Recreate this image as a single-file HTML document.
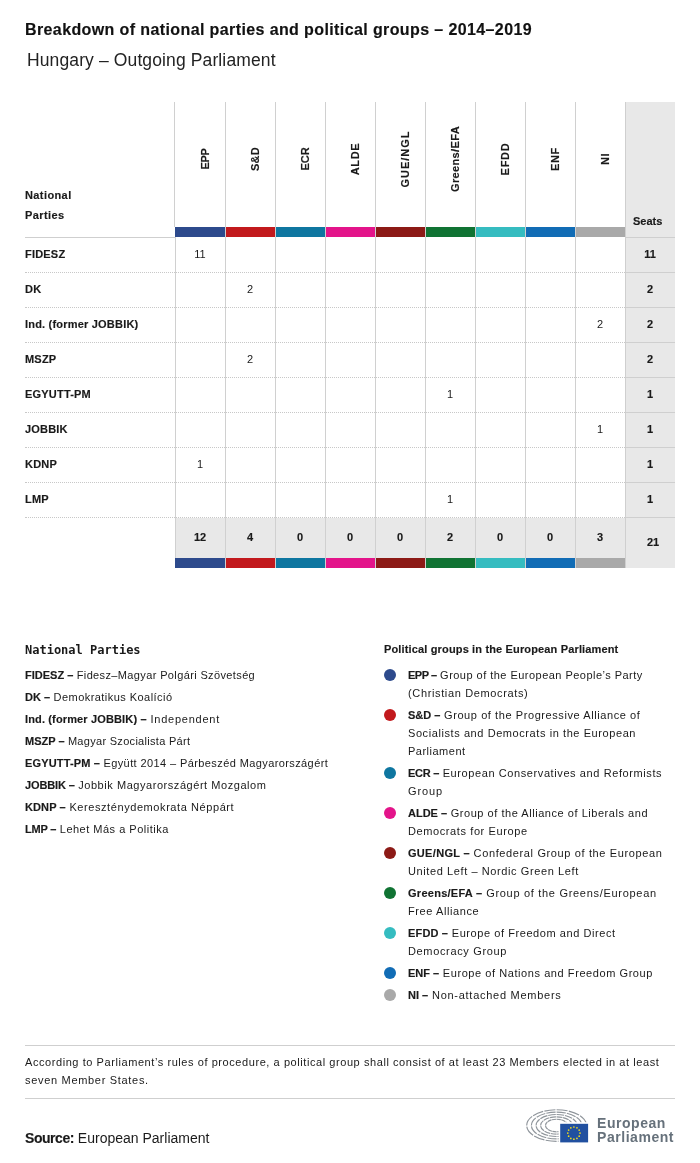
<!DOCTYPE html>
<html><head><meta charset="utf-8">
<style>
*{margin:0;padding:0;box-sizing:border-box}
html,body{width:700px;height:1163px;background:#fff;overflow:hidden}
body{position:relative;font-family:"Liberation Sans",Arial,sans-serif;color:#1a1a1a}
.a{position:absolute;white-space:nowrap}
.title{left:25px;top:20px;font-size:16px;line-height:20px;font-weight:bold;letter-spacing:0.39px;color:#111}
.sub{left:27px;top:49px;font-size:17.5px;line-height:22px;color:#222;letter-spacing:0.12px}
.vl{position:absolute;width:1px;background:#d0d0d0}
.seatcol{position:absolute;left:625px;top:102px;width:50px;height:466px;background:#e8e8e8;border-left:1px solid #cfcfcf}
.bar{position:absolute;height:10px}
.gh{position:absolute;top:101px;width:50px;height:126px}
.gh span{position:absolute;left:calc(50% + 4.6px);top:57.7px;transform:translate(-50%,-50%) rotate(-90deg);font-size:11px;font-weight:bold;line-height:13px;white-space:nowrap;color:#1a1a1a}
.np{left:25px;top:185px;font-size:11px;line-height:20px;font-weight:bold;letter-spacing:0.4px}
.seats{left:633px;top:214px;font-size:11px;line-height:14px;font-weight:bold}
.rowlab{position:absolute;left:25px;font-size:11px;font-weight:bold;line-height:35px;height:35px;letter-spacing:0.2px}
.dot{position:absolute;left:25px;width:600px;height:0;border-top:1px dotted #c8c8c8}
.hr{position:absolute;height:1px;background:#cfcfcf}
.num{position:absolute;width:50px;text-align:center;font-size:11px;line-height:35px}
.sn{position:absolute;left:625px;width:50px;text-align:center;font-size:11px;line-height:35px;font-weight:bold}
.tot{position:absolute;top:518px;width:50px;height:40px;background:#e8e8e8;text-align:center;font-size:11px;font-weight:bold;line-height:38px}

.lh{font-family:"DejaVu Sans Mono",monospace;font-weight:bold;font-size:12px;line-height:18px;color:#1a1a1a}
.lg{font-size:11px;line-height:18px;letter-spacing:0.45px}
.lg div{margin-bottom:4px}
.lg b,.rg b{letter-spacing:0}
.rh{font-size:11px;line-height:18px;font-weight:bold;letter-spacing:0.15px}
.rg{font-size:11px;line-height:18px;letter-spacing:0.5px}
.rg div{position:relative;padding-left:24px;margin-bottom:4px}
.rg i{position:absolute;left:0;top:3px;width:12px;height:12px;border-radius:50%}
.foot{font-size:11px;line-height:18px;letter-spacing:0.57px}
.src{font-size:14px;line-height:20px}
.logo{font-size:14px;line-height:14.5px;font-weight:bold;color:#66717b;letter-spacing:0.55px}
b,.title,.np,.seats,.rowlab,.sn,.tot,.rh,.gh span{-webkit-text-stroke:0.15px currentColor}
</style></head><body><div id="w" style="position:absolute;left:0;top:0;width:700px;height:1163px;will-change:transform">
<div class="a title">Breakdown of national parties and political groups – 2014–2019</div>
<div class="a sub">Hungary – Outgoing Parliament</div>

<!-- seats column -->
<div class="seatcol"></div>
<!-- totals backgrounds -->
<div class="tot" style="left:175px">12</div>
<div class="tot" style="left:225px">4</div>
<div class="tot" style="left:275px">0</div>
<div class="tot" style="left:325px">0</div>
<div class="tot" style="left:375px">0</div>
<div class="tot" style="left:425px">2</div>
<div class="tot" style="left:475px">0</div>
<div class="tot" style="left:525px">0</div>
<div class="tot" style="left:575px">3</div>
<div class="a" style="left:628px;top:517px;width:50px;text-align:center;font-size:11px;font-weight:bold;line-height:50px;-webkit-text-stroke:0.15px currentColor">21</div>

<!-- vertical lines -->
<div class="vl" style="left:174px;top:102px;height:125px"></div>
<div class="vl" style="left:175px;top:237px;height:331px"></div>
<div class="vl" style="left:225px;top:102px;height:466px"></div>
<div class="vl" style="left:275px;top:102px;height:466px"></div>
<div class="vl" style="left:325px;top:102px;height:466px"></div>
<div class="vl" style="left:375px;top:102px;height:466px"></div>
<div class="vl" style="left:425px;top:102px;height:466px"></div>
<div class="vl" style="left:475px;top:102px;height:466px"></div>
<div class="vl" style="left:525px;top:102px;height:466px"></div>
<div class="vl" style="left:575px;top:102px;height:466px"></div>

<!-- group headers -->
<div class="gh" style="left:175px"><span style="letter-spacing:-0.3px">EPP</span></div>
<div class="gh" style="left:225px"><span style="letter-spacing:0.2px">S&amp;D</span></div>
<div class="gh" style="left:275px"><span style="letter-spacing:0px">ECR</span></div>
<div class="gh" style="left:325px"><span style="letter-spacing:0.6px">ALDE</span></div>
<div class="gh" style="left:375px"><span style="letter-spacing:1.0px">GUE/NGL</span></div>
<div class="gh" style="left:425px"><span style="letter-spacing:0.35px">Greens/EFA</span></div>
<div class="gh" style="left:475px"><span style="letter-spacing:0.7px">EFDD</span></div>
<div class="gh" style="left:525px"><span style="letter-spacing:0.6px">ENF</span></div>
<div class="gh" style="left:575px"><span style="letter-spacing:0.5px">NI</span></div>

<div class="a np">National<br>Parties</div>
<div class="a seats">Seats</div>

<!-- colour bars top -->
<div class="bar" style="top:227px;left:175px;width:50px;background:#2d4a8c"></div>
<div class="bar" style="top:227px;left:226px;width:49px;background:#c2191d"></div>
<div class="bar" style="top:227px;left:276px;width:49px;background:#0e76a0"></div>
<div class="bar" style="top:227px;left:326px;width:49px;background:#e3148a"></div>
<div class="bar" style="top:227px;left:376px;width:49px;background:#8c1a16"></div>
<div class="bar" style="top:227px;left:426px;width:49px;background:#107333"></div>
<div class="bar" style="top:227px;left:476px;width:49px;background:#35bcc0"></div>
<div class="bar" style="top:227px;left:526px;width:49px;background:#116cb5"></div>
<div class="bar" style="top:227px;left:576px;width:49px;background:#a9a9a9"></div>
<!-- colour bars bottom -->
<div class="bar" style="top:558px;left:175px;width:50px;background:#2d4a8c"></div>
<div class="bar" style="top:558px;left:226px;width:49px;background:#c2191d"></div>
<div class="bar" style="top:558px;left:276px;width:49px;background:#0e76a0"></div>
<div class="bar" style="top:558px;left:326px;width:49px;background:#e3148a"></div>
<div class="bar" style="top:558px;left:376px;width:49px;background:#8c1a16"></div>
<div class="bar" style="top:558px;left:426px;width:49px;background:#107333"></div>
<div class="bar" style="top:558px;left:476px;width:49px;background:#35bcc0"></div>
<div class="bar" style="top:558px;left:526px;width:49px;background:#116cb5"></div>
<div class="bar" style="top:558px;left:576px;width:49px;background:#a9a9a9"></div>

<!-- header rule -->
<div class="hr" style="left:25px;top:237px;width:150px"></div>
<div class="hr" style="left:625px;top:237px;width:50px"></div>

<!-- rows -->
<div class="rowlab" style="top:237px">FIDESZ</div>
<div class="rowlab" style="top:272px">DK</div>
<div class="rowlab" style="top:307px">Ind. (former JOBBIK)</div>
<div class="rowlab" style="top:342px">MSZP</div>
<div class="rowlab" style="top:377px">EGYUTT-PM</div>
<div class="rowlab" style="top:412px">JOBBIK</div>
<div class="rowlab" style="top:447px">KDNP</div>
<div class="rowlab" style="top:482px">LMP</div>

<div class="dot" style="top:272px"></div>
<div class="dot" style="top:307px"></div>
<div class="dot" style="top:342px"></div>
<div class="dot" style="top:377px"></div>
<div class="dot" style="top:412px"></div>
<div class="dot" style="top:447px"></div>
<div class="dot" style="top:482px"></div>
<div class="dot" style="top:517px"></div>
<div class="hr" style="left:625px;top:272px;width:50px"></div>
<div class="hr" style="left:625px;top:307px;width:50px"></div>
<div class="hr" style="left:625px;top:342px;width:50px"></div>
<div class="hr" style="left:625px;top:377px;width:50px"></div>
<div class="hr" style="left:625px;top:412px;width:50px"></div>
<div class="hr" style="left:625px;top:447px;width:50px"></div>
<div class="hr" style="left:625px;top:482px;width:50px"></div>
<div class="hr" style="left:625px;top:517px;width:50px"></div>

<div class="num" style="left:175px;top:237px">11</div>
<div class="num" style="left:225px;top:272px">2</div>
<div class="num" style="left:575px;top:307px">2</div>
<div class="num" style="left:225px;top:342px">2</div>
<div class="num" style="left:425px;top:377px">1</div>
<div class="num" style="left:575px;top:412px">1</div>
<div class="num" style="left:175px;top:447px">1</div>
<div class="num" style="left:425px;top:482px">1</div>

<div class="sn" style="top:237px">11</div>
<div class="sn" style="top:272px">2</div>
<div class="sn" style="top:307px">2</div>
<div class="sn" style="top:342px">2</div>
<div class="sn" style="top:377px">1</div>
<div class="sn" style="top:412px">1</div>
<div class="sn" style="top:447px">1</div>
<div class="sn" style="top:482px">1</div>


<!-- legends -->
<div class="a lh" style="left:25px;top:640.8px">National Parties</div>
<div class="a lg" style="left:25px;top:666px">
<div><b style="letter-spacing:0px">FIDESZ –</b><span style="letter-spacing:0.37px"> Fidesz–Magyar Polgári Szövetség</span></div>
<div><b style="letter-spacing:0px">DK –</b><span style="letter-spacing:0.45px"> Demokratikus Koalíció</span></div>
<div><b style="letter-spacing:0.14px">Ind. (former JOBBIK) –</b><span style="letter-spacing:0.76px"> Independent</span></div>
<div><b style="letter-spacing:0px">MSZP –</b><span style="letter-spacing:0.3px"> Magyar Szocialista Párt</span></div>
<div><b style="letter-spacing:0.15px">EGYUTT-PM –</b><span style="letter-spacing:0.4px"> Együtt 2014 – Párbeszéd Magyarországért</span></div>
<div><b style="letter-spacing:-0.14px">JOBBIK –</b><span style="letter-spacing:0.55px"> Jobbik Magyarországért Mozgalom</span></div>
<div><b style="letter-spacing:0.1px">KDNP –</b><span style="letter-spacing:0.58px"> Kereszténydemokrata Néppárt</span></div>
<div><b style="letter-spacing:-0.2px">LMP –</b><span style="letter-spacing:0.5px"> Lehet Más a Politika</span></div>
</div>
<div class="a rh" style="left:384px;top:640px">Political groups in the European Parliament</div>
<div class="a rg" style="left:384px;top:666px">
<div><i style="background:#2d4a8c"></i><b style="letter-spacing:-0.48px">EPP –</b><span style="letter-spacing:0.47px"> Group of the European People’s Party</span><br><span style="letter-spacing:0.64px">(Christian Democrats)</span></div>
<div><i style="background:#c2191d"></i><b style="letter-spacing:0px">S&amp;D –</b><span style="letter-spacing:0.58px"> Group of the Progressive Alliance of</span><br><span style="letter-spacing:0.58px">Socialists and Democrats in the European</span><br><span style="letter-spacing:0.5px">Parliament</span></div>
<div><i style="background:#0e76a0"></i><b style="letter-spacing:-0.28px">ECR –</b><span style="letter-spacing:0.595px"> European Conservatives and Reformists</span><br><span style="letter-spacing:0.86px">Group</span></div>
<div><i style="background:#e3148a"></i><b style="letter-spacing:0px">ALDE –</b><span style="letter-spacing:0.54px"> Group of the Alliance of Liberals and</span><br><span style="letter-spacing:0.6px">Democrats for Europe</span></div>
<div><i style="background:#8c1a16"></i><b style="letter-spacing:0.31px">GUE/NGL –</b><span style="letter-spacing:0.63px"> Confederal Group of the European</span><br><span style="letter-spacing:0.6px">United Left – Nordic Green Left</span></div>
<div><i style="background:#107333"></i><b style="letter-spacing:0.27px">Greens/EFA –</b><span style="letter-spacing:0.7px"> Group of the Greens/European</span><br><span style="letter-spacing:0.59px">Free Alliance</span></div>
<div><i style="background:#35bcc0"></i><b style="letter-spacing:0.17px">EFDD –</b><span style="letter-spacing:0.57px"> Europe of Freedom and Direct</span><br><span style="letter-spacing:0.65px">Democracy Group</span></div>
<div><i style="background:#116cb5"></i><b style="letter-spacing:0px">ENF –</b><span style="letter-spacing:0.57px"> Europe of Nations and Freedom Group</span></div>
<div><i style="background:#a9a9a9"></i><b style="letter-spacing:0px">NI –</b><span style="letter-spacing:0.73px"> Non-attached Members</span></div>
</div>

<!-- footer -->
<div class="hr" style="left:25px;top:1045px;width:650px"></div>
<div class="a foot" style="left:25px;top:1053px">According to Parliament’s rules of procedure, a political group shall consist of at least 23 Members elected in at least<br><span style="letter-spacing:0.69px">seven Member States.</span></div>
<div class="hr" style="left:25px;top:1098px;width:650px"></div>
<div class="a src" style="left:25px;top:1128px"><b style="letter-spacing:-0.45px">Source:</b> European Parliament</div>

<svg class="a" style="left:520px;top:1100px" width="75" height="50" viewBox="0 0 75 50">
<g fill="none" stroke="#8f959b" stroke-width="1.15">
<ellipse cx="36.6" cy="25.5" rx="29.9" ry="15.8" pathLength="120" stroke-dasharray="9 1"/>
<ellipse cx="36.6" cy="25.5" rx="25.2" ry="13.4" pathLength="120" stroke-dasharray="9 1"/>
<ellipse cx="36.6" cy="25.5" rx="20.5" ry="11" pathLength="120" stroke-dasharray="9 1"/>
<ellipse cx="36.6" cy="25.5" rx="16" ry="8.6" pathLength="120" stroke-dasharray="9 1"/>
<ellipse cx="36.6" cy="25.5" rx="11.1" ry="6.3" pathLength="120" stroke-dasharray="9 1"/>
</g>
<rect x="38.6" y="22.2" width="36" height="27" fill="#fff"/>
<rect x="40.2" y="23.8" width="27.9" height="18.6" fill="#2150a0"/>
<g fill="#f2dc1a"><circle cx="60.00" cy="33.10" r="0.85"/><circle cx="59.18" cy="36.15" r="0.85"/><circle cx="56.95" cy="38.38" r="0.85"/><circle cx="53.90" cy="39.20" r="0.85"/><circle cx="50.85" cy="38.38" r="0.85"/><circle cx="48.62" cy="36.15" r="0.85"/><circle cx="47.80" cy="33.10" r="0.85"/><circle cx="48.62" cy="30.05" r="0.85"/><circle cx="50.85" cy="27.82" r="0.85"/><circle cx="53.90" cy="27.00" r="0.85"/><circle cx="56.95" cy="27.82" r="0.85"/><circle cx="59.18" cy="30.05" r="0.85"/></g>
</svg>
<div class="a logo" style="left:597px;top:1115.5px">European<br>Parliament</div>
</div></body></html>
